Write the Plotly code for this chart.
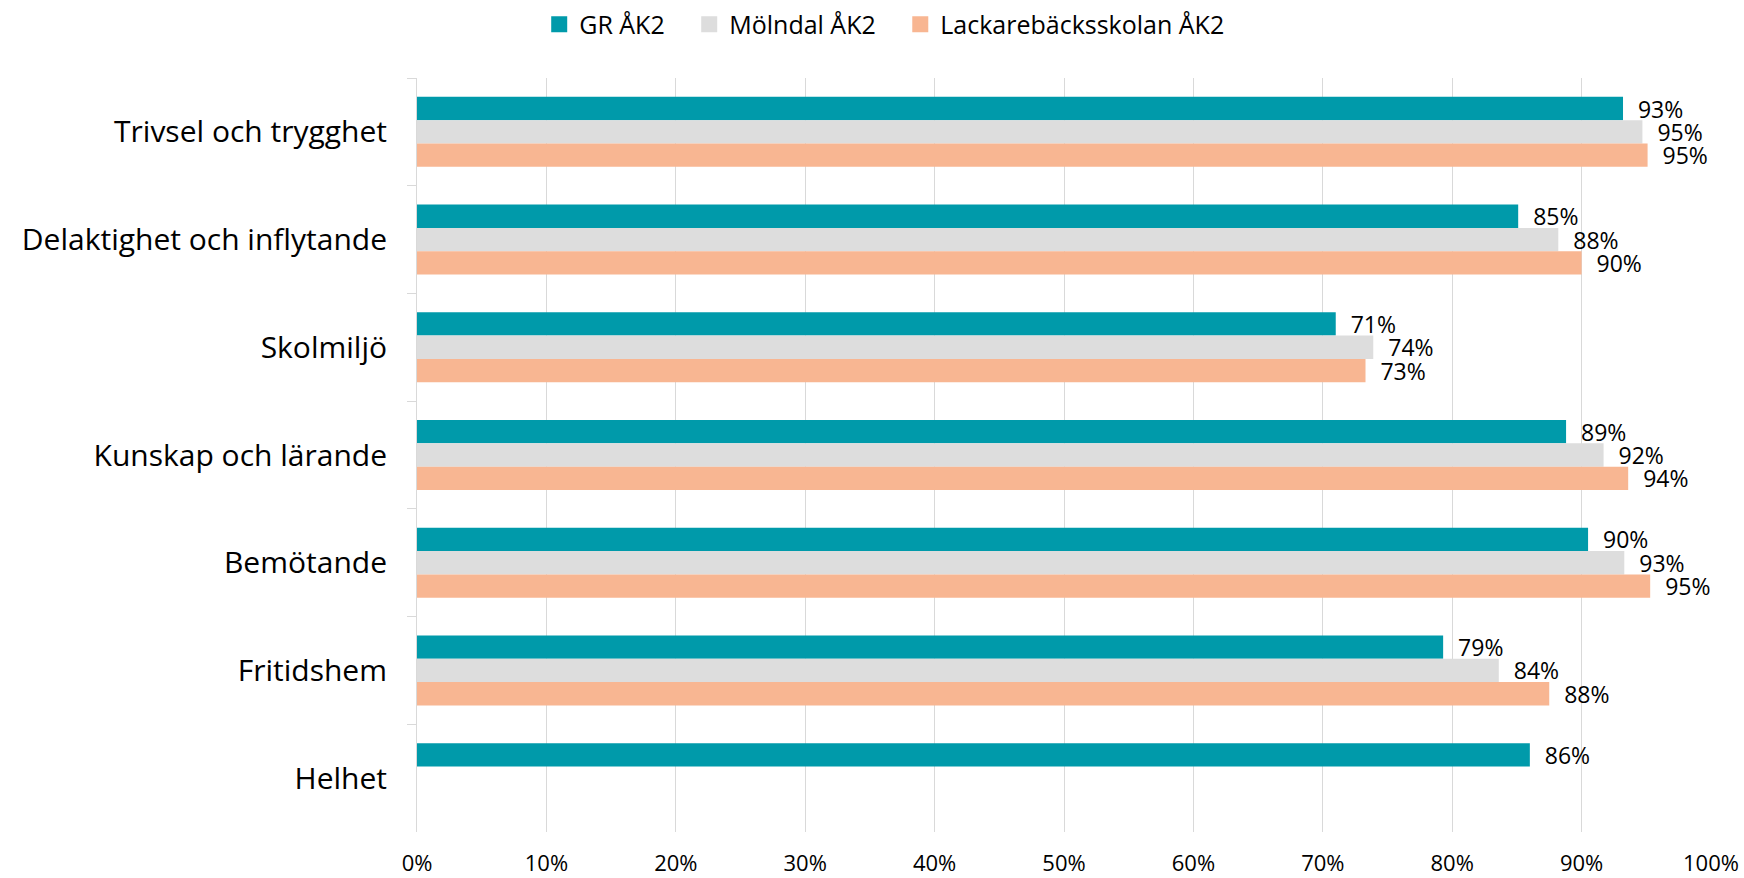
import plotly.graph_objects as go

categories = ["Trivsel och trygghet", "Delaktighet och inflytande", "Skolmiljö",
              "Kunskap och lärande", "Bemötande", "Fritidshem", "Helhet"]
series_names = ["GR ÅK2", "Mölndal ÅK2", "Lackarebäcksskolan ÅK2"]
gr_values = [0.932, 0.851, 0.710, 0.888, 0.905, 0.793, 0.860]
molndal_values = [0.947, 0.882, 0.739, 0.917, 0.933, 0.836, None]
lackare_values = [0.951, 0.900, 0.733, 0.936, 0.953, 0.875, None]
gr_labels = ["93%", "85%", "71%", "89%", "90%", "79%", "86%"]
molndal_labels = ["95%", "88%", "74%", "92%", "93%", "84%", ""]
lackare_labels = ["95%", "90%", "73%", "94%", "95%", "88%", ""]
colors = ["#009AAA", "#DDDDDD", "#F8B692"]

FONT = "Open Sans"
NB = "\u00a0"
fig = go.Figure()
for name, vals, labs, col in zip(series_names,
                                 [gr_values, molndal_values, lackare_values],
                                 [gr_labels, molndal_labels, lackare_labels],
                                 colors):
    fig.add_trace(go.Bar(
        y=categories, x=vals, name=name, orientation="h",
        marker=dict(color=col, line=dict(width=0)),
        text=[NB + NB + t if t else "" for t in labs], textposition="outside",
        constraintext="none",
        textfont=dict(family=FONT, size=23, color="#000000"),
        cliponaxis=False, hoverinfo="skip", showlegend=False,
    ))

# legend entries (square markers, same colours as the bars)
legend_pad = [NB * 3, NB * 3, ""]
for name, col, pad in zip(series_names, colors, legend_pad):
    fig.add_trace(go.Scatter(
        x=[None], y=[None], mode="markers", name=name + pad,
        marker=dict(symbol="square", size=16, color=col),
        hoverinfo="skip", showlegend=True,
    ))

fig.update_layout(
    width=1744, height=878,
    paper_bgcolor="white", plot_bgcolor="white",
    margin=dict(l=417, r=33, t=78, b=46, autoexpand=False),
    barmode="group", bargap=0.35, bargroupgap=0,
    font=dict(family=FONT, color="#000000"),
    legend=dict(orientation="h", xref="container", yref="container",
                x=0.507, xanchor="center", y=0.972, yanchor="middle",
                font=dict(family=FONT, size=25), itemclick=False,
                itemsizing="trace", itemwidth=30, traceorder="normal"),
)
fig.update_xaxes(range=[0, 1], dtick=0.1, tickformat=".0%",
                 showgrid=True, gridcolor="#D9D9D9", gridwidth=1,
                 zeroline=False, showline=False, automargin=False,
                 tickfont=dict(family=FONT, size=22),
                 ticklabelstandoff=16, fixedrange=True)
fig.update_yaxes(autorange="reversed", showgrid=False, showline=True,
                 linecolor="#D9D9D9", linewidth=1, automargin=False,
                 ticks="outside", tickson="boundaries", ticklen=9,
                 tickcolor="#D9D9D9",
                 tickfont=dict(family=FONT, size=30),
                 ticklabelstandoff=23, fixedrange=True)

fig.write_html("out.html",
               config={"displayModeBar": False, "staticPlot": False},
               post_script="document.body.style.margin='0';document.body.style.padding='0';")
